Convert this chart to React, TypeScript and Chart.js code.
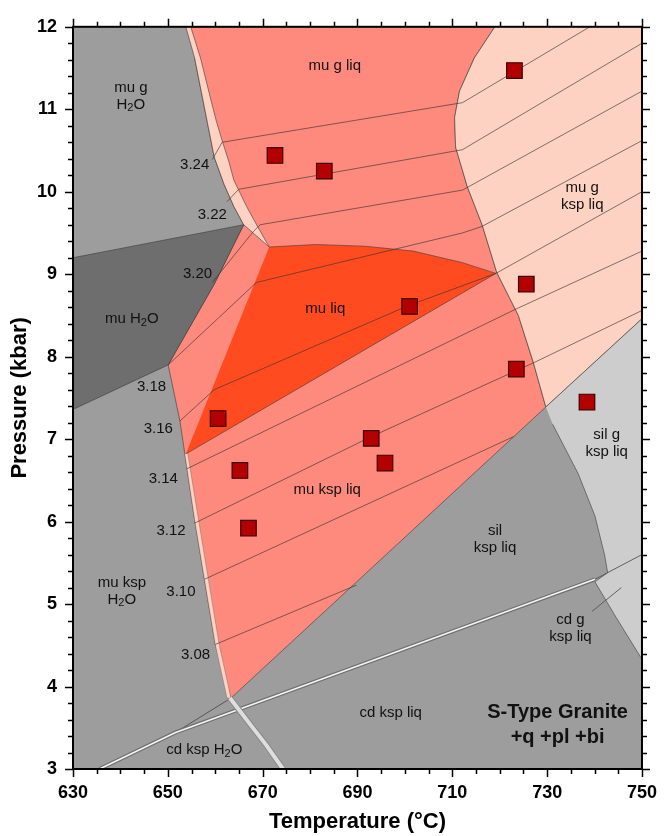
import React, { useEffect, useRef } from 'react';
import { Chart, registerables } from 'chart.js';

Chart.register(...registerables);

type Pt = [number, number];

// ---- axes ----
const xTickLabels = [630, 650, 670, 690, 710, 730, 750];
const yTickLabels = [3, 4, 5, 6, 7, 8, 9, 10, 11, 12];

// ---- phase fields (T °C, P kbar) ----
const fieldAll: Pt[] = [[630, 3], [750, 3], [750, 12], [630, 12]];
const fieldMuLiqSalmon: Pt[] = [
  [653.79, 12], [718.97, 12], [714.62, 11.62], [711.52, 11.22], [710.48, 10.9], [710.69, 10.54],
  [713.17, 10.06], [716.28, 9.6], [719.38, 9.02], [723.93, 8.5], [727.03, 7.94], [729.72, 7.39],
  [663.31, 3.86], [660.0, 4.51], [657.72, 5.3], [655.66, 6.02], [653.59, 6.82], [652.55, 7.22],
  [650.07, 7.9], [659.79, 8.88], [666.0, 9.6], [663.93, 9.82], [661.86, 10.09], [659.79, 10.42],
  [658.55, 10.78], [657.31, 11.14], [655.66, 11.62],
];
const fieldMuGKspLiq: Pt[] = [
  [718.97, 12], [714.62, 11.62], [711.52, 11.22], [710.48, 10.9], [710.69, 10.54], [713.17, 10.06],
  [716.28, 9.6], [719.38, 9.02], [723.93, 8.5], [727.03, 7.94], [729.72, 7.39], [750, 8.46], [750, 12],
];
const fieldMuLiq: Pt[] = [
  [671.38, 9.33], [681.1, 9.36], [691.45, 9.34], [701.79, 9.28], [712.14, 9.14], [719.2, 9.01], [653.79, 6.82],
];
const bandUpper: Pt[] = [
  [653.79, 12], [655.66, 11.62], [657.31, 11.14], [658.55, 10.78], [659.79, 10.42], [661.86, 10.09],
  [663.93, 9.82], [666.0, 9.6], [671.38, 9.33], [669.1, 9.56], [666.62, 9.82], [663.93, 10.14],
  [662.9, 10.36], [661.45, 10.62], [660.21, 10.86], [658.97, 11.14], [656.9, 11.62], [654.83, 12],
];
const bandLower: Pt[] = [
  [653.59, 6.82], [655.66, 6.02], [657.72, 5.3], [660.0, 4.51], [662.48, 3.86],
  [663.31, 3.86], [660.83, 4.51], [658.55, 5.3], [656.48, 6.02], [654.21, 6.82],
];
const fieldSilGKspLiq: Pt[] = [
  [729.72, 7.39], [750, 8.46], [750, 4.33], [744.21, 4.87], [740.07, 5.27], [742.76, 5.38],
  [742.14, 5.59], [740.07, 6.07], [736.55, 6.58], [731.17, 7.18],
];
const fieldMuH2O: Pt[] = [[630, 9.2], [666.0, 9.6], [659.79, 8.88], [650.07, 7.9], [630, 7.36]];

// ---- isopleths ----
const iso324: Pt[] = [[659.38, 10.39], [661.45, 10.6], [712.14, 11.08], [739.0, 12]];
const iso322: Pt[] = [[662.48, 9.88], [664.97, 10.03], [712.14, 10.51], [750, 11.8]];
const iso320: Pt[] = [[659.38, 8.9], [668.07, 9.52], [669.5, 9.6], [712.14, 10.02], [750, 11.22]];
const iso318: Pt[] = [[650.07, 7.9], [668.69, 8.9], [712.14, 9.5], [716.28, 9.58], [750, 10.62]];
const iso316: Pt[] = [[652.55, 7.22], [659.79, 7.6], [700.76, 8.62], [719.2, 9.01], [750, 10.0]];
const iso314: Pt[] = [[654.0, 6.64], [723.52, 8.58], [750, 9.28]];
const iso312: Pt[] = [[655.6, 5.98], [692.9, 7.03], [727.66, 7.94], [750, 8.56]];
const iso310: Pt[] = [[657.72, 5.3], [722.9, 7.03]];
const iso308: Pt[] = [[660.0, 4.51], [689.79, 5.23]];
const isopleths = [iso324, iso322, iso320, iso318, iso316, iso314, iso312, iso310, iso308];

// ---- other boundaries ----
const cdLine: Pt[] = [[635.59, 3.0], [651.52, 3.44], [740.07, 5.3]];
const cdLineEnd: Pt[] = [[740.07, 5.3], [750, 5.6]];
const muOutLow: Pt[] = [[663.31, 3.86], [651.52, 3.44]];
const solidus: Pt[] = [[663.1, 3.86], [667.24, 3.55], [670.76, 3.29], [674.28, 3.0]];
const leader: Pt[] = [[739.45, 4.91], [745.66, 5.2]];

// ---- samples ----
const sampleT = [723.1, 672.6, 683.0, 701.0, 725.6, 723.5, 738.4, 660.6, 692.9, 695.8, 665.2, 667.0];
const sampleP = [11.47, 10.44, 10.25, 8.61, 8.88, 7.85, 7.45, 7.25, 7.01, 6.71, 6.62, 5.92];

// ---- labels ----
const regionLabels = [
  { lines: ['mu g', 'H₂O'], T: 642.2, P: 11.16 },
  { lines: ['mu H₂O'], T: 642.4, P: 8.46 },
  { lines: ['mu g liq'], T: 685.2, P: 11.53 },
  { lines: ['mu g', 'ksp liq'], T: 737.4, P: 9.94 },
  { lines: ['mu liq'], T: 683.2, P: 8.58 },
  { lines: ['mu ksp liq'], T: 683.6, P: 6.38 },
  { lines: ['sil', 'ksp liq'], T: 719.0, P: 5.78 },
  { lines: ['sil g', 'ksp liq'], T: 742.55, P: 6.95 },
  { lines: ['cd g', 'ksp liq'], T: 734.9, P: 4.71 },
  { lines: ['cd ksp liq'], T: 697.0, P: 3.68 },
  { lines: ['mu ksp', 'H₂O'], T: 640.3, P: 5.16 },
  { lines: ['cd ksp H₂O'], T: 657.7, P: 3.23 },
];
const isoLabels = [
  { text: '3.24', T: 655.66, P: 10.32 },
  { text: '3.22', T: 659.38, P: 9.72 },
  { text: '3.20', T: 656.28, P: 9.0 },
  { text: '3.18', T: 646.55, P: 7.63 },
  { text: '3.16', T: 648.0, P: 7.12 },
  { text: '3.14', T: 649.03, P: 6.52 },
  { text: '3.12', T: 650.69, P: 5.89 },
  { text: '3.10', T: 652.76, P: 5.15 },
  { text: '3.08', T: 655.86, P: 4.39 },
];
const legendBlock = { lines: ['S-Type Granite', '+q +pl +bi'], T: 732.2, P: 3.53 };

const FONT = '"Liberation Sans", Arial, Helvetica, sans-serif';

const toXY = (pts: Pt[]) => pts.map(([x, y]) => ({ x, y }));

function poly(pts: Pt[], color: string, border = 'rgba(60,60,60,0.75)', bw = 0.8) {
  return {
    data: toXY(pts), showLine: true, fill: 'shape', backgroundColor: color,
    borderColor: border, borderWidth: bw, pointRadius: 0, tension: 0,
  };
}
function line(pts: Pt[], color: string, bw: number) {
  return {
    data: toXY(pts), showLine: true, fill: false, borderColor: color,
    borderWidth: bw, pointRadius: 0, tension: 0, backgroundColor: color,
  };
}

function drawRich(ctx: CanvasRenderingContext2D, text: string, cx: number, cy: number, size: number, weight: string) {
  const parts: { t: string; sub: boolean }[] = [];
  let buf = '';
  for (const ch of text) {
    if (ch === '₂') {
      if (buf) parts.push({ t: buf, sub: false });
      buf = '';
      parts.push({ t: '2', sub: true });
    } else buf += ch;
  }
  if (buf) parts.push({ t: buf, sub: false });
  const fnt = (sub: boolean) => `${weight} ${sub ? Math.round(size * 0.7) : size}px ${FONT}`;
  let w = 0;
  for (const p of parts) { ctx.font = fnt(p.sub); w += ctx.measureText(p.t).width; }
  let x = cx - w / 2;
  ctx.textAlign = 'left';
  ctx.textBaseline = 'middle';
  for (const p of parts) {
    ctx.font = fnt(p.sub);
    ctx.fillText(p.t, x, p.sub ? cy + size * 0.25 : cy);
    x += ctx.measureText(p.t).width;
  }
}

const decorPlugin = {
  id: 'decor',
  afterDatasetsDraw(chart: any) {
    const { ctx, scales: { x, y } } = chart;
    ctx.save();
    ctx.fillStyle = '#111';
    for (const lab of regionLabels) {
      const cx = x.getPixelForValue(lab.T);
      const cy = y.getPixelForValue(lab.P);
      const lh = 17;
      const y0 = cy - ((lab.lines.length - 1) * lh) / 2;
      lab.lines.forEach((t, i) => drawRich(ctx, t, cx, y0 + i * lh, 15, 'normal'));
    }
    for (const lab of isoLabels) {
      drawRich(ctx, lab.text, x.getPixelForValue(lab.T), y.getPixelForValue(lab.P), 15, 'normal');
    }
    {
      const cx = x.getPixelForValue(legendBlock.T);
      const cy = y.getPixelForValue(legendBlock.P);
      const lh = 25;
      const y0 = cy - ((legendBlock.lines.length - 1) * lh) / 2;
      legendBlock.lines.forEach((t, i) => drawRich(ctx, t, cx, y0 + i * lh, 20, 'bold'));
    }
    ctx.restore();
  },
  afterDraw(chart: any) {
    const { ctx, chartArea: { left, right, top, bottom }, scales: { x, y } } = chart;
    ctx.save();
    ctx.strokeStyle = '#000';
    ctx.lineWidth = 1.5;
    ctx.beginPath();
    for (let v = xTickLabels[0]; v <= xTickLabels[xTickLabels.length - 1]; v += 5) {
      const px = Math.round(x.getPixelForValue(v)) + 0.5;
      const len = xTickLabels.includes(v) ? 8 : 5;
      ctx.moveTo(px, bottom); ctx.lineTo(px, bottom + len);
      ctx.moveTo(px, top); ctx.lineTo(px, top - len);
    }
    const ymin = yTickLabels[0];
    const ymax = yTickLabels[yTickLabels.length - 1];
    const n = Math.round((ymax - ymin) / 0.2);
    for (let i = 0; i <= n; i++) {
      const v = ymin + i * 0.2;
      const py = Math.round(y.getPixelForValue(v)) + 0.5;
      const len = i % 5 === 0 ? 8 : 5;
      ctx.moveTo(left, py); ctx.lineTo(left - len, py);
      ctx.moveTo(right, py); ctx.lineTo(right + len, py);
    }
    ctx.stroke();
    ctx.lineWidth = 2;
    ctx.strokeRect(left, top, right - left, bottom - top);
    ctx.restore();
  },
};

export default function App() {
  const ref = useRef<HTMLCanvasElement | null>(null);
  useEffect(() => {
    if (!ref.current) return;
    const gray = '#9d9d9d';
    const salmon = '#fd8a7c';
    const orange = '#ff4b1f';
    const peach = '#fdd2c2';
    const lightGray = '#cdcdcd';
    const darkGray = '#6e6e6e';
    const isoColor = 'rgba(60,50,50,0.8)';

    const list: any[] = [
      poly(fieldAll, gray, 'rgba(0,0,0,0)', 0),
      poly(fieldMuLiqSalmon, salmon),
      poly(fieldMuLiq, orange),
      poly(bandUpper, peach),
      poly(bandLower, peach, 'rgba(90,90,90,0.6)', 0.6),
      poly(fieldMuGKspLiq, peach),
      poly(fieldSilGKspLiq, lightGray),
      poly(fieldMuH2O, darkGray),
      ...isopleths.map((p) => line(p, isoColor, 0.8)),
      line(muOutLow, 'rgba(60,60,60,0.8)', 0.9),
      line(cdLine, '#707070', 4),
      line(cdLine, '#f4f4f4', 1.6),
      line(cdLineEnd, '#555', 0.9),
      line(leader, '#555', 0.9),
      line(solidus, '#8a8a8a', 6),
      line(solidus, '#dedede', 4),
      {
        data: sampleT.map((t, i) => ({ x: t, y: sampleP[i] })),
        showLine: false, pointStyle: 'rect', pointRadius: 11, pointHoverRadius: 11,
        backgroundColor: '#b30000', borderColor: '#3a0000', borderWidth: 1.2,
      },
    ];
    const N = list.length;
    const datasets = list.map((d, i) => ({ ...d, order: N - i }));

    const chart = new Chart(ref.current, {
      type: 'scatter',
      data: { datasets },
      options: {
        responsive: false,
        animation: false,
        devicePixelRatio: 1,
        events: [],
        layout: { padding: { top: 18, right: 17, left: 0, bottom: 0 } },
        plugins: { legend: { display: false }, tooltip: { enabled: false } },
        scales: {
          x: {
            type: 'linear', position: 'bottom', min: 630, max: 750,
            afterBuildTicks: (s: any) => { s.ticks = xTickLabels.map((v) => ({ value: v })); },
            afterFit: (s: any) => { s.height = 67; },
            ticks: { color: '#000', padding: 13, maxRotation: 0, autoSkip: false, font: { family: FONT, size: 18, weight: 'bold' } },
            grid: { display: false, drawTicks: false },
            border: { display: false },
            title: { display: true, text: 'Temperature (°C)', color: '#000', padding: { top: 0, bottom: 1 }, font: { family: FONT, size: 22, weight: 'bold' } },
          },
          y: {
            type: 'linear', position: 'left', min: 3, max: 12,
            afterBuildTicks: (s: any) => { s.ticks = yTickLabels.map((v) => ({ value: v })); },
            afterFit: (s: any) => { s.width = 73; },
            ticks: { color: '#000', padding: 16, autoSkip: false, font: { family: FONT, size: 18, weight: 'bold' } },
            grid: { display: false, drawTicks: false },
            border: { display: false },
            title: { display: true, text: 'Pressure (kbar)', color: '#000', padding: { top: 7, bottom: 0 }, font: { family: FONT, size: 22, weight: 'bold' } },
          },
        },
      } as any,
      plugins: [decorPlugin],
    });
    return () => chart.destroy();
  }, []);

  return (
    <div style={{ position: 'absolute', left: 0, top: 0, width: 670, height: 836, background: '#fff' }}>
      <canvas ref={ref} width={670} height={836} style={{ display: 'block' }} />
    </div>
  );
}
